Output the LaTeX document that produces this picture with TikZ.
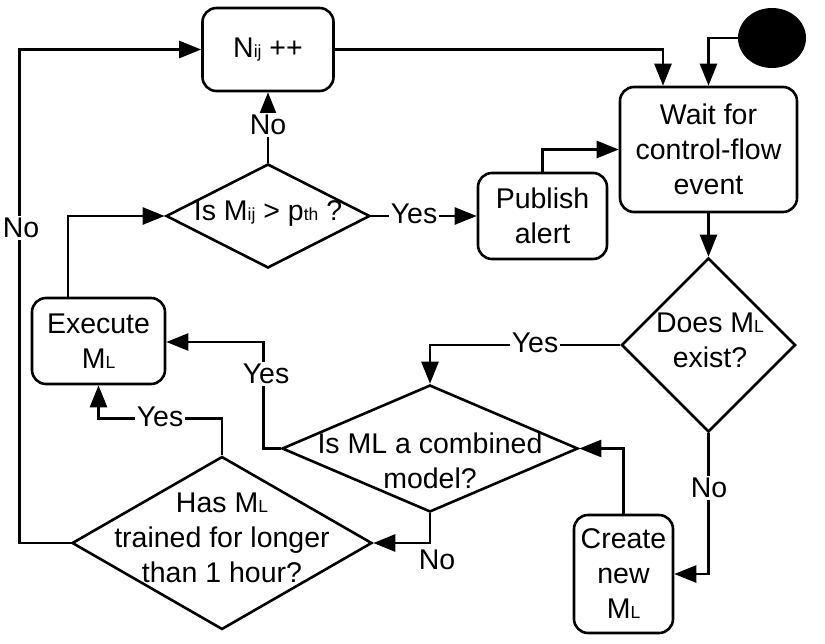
\documentclass[tikz,border=0pt]{standalone}
\usepackage{fontspec}
\setmainfont{Liberation Sans}
\usetikzlibrary{arrows.meta,shapes.geometric}
\newcommand\ftxt{\fontsize{28.5}{35}\selectfont}
\newcommand\sbs[1]{{\fontsize{17.5}{17.5}\selectfont #1}}
\begin{document}
\begin{tikzpicture}[x=1pt,y=-1pt,
  ln/.style={line width=2.6pt},
  arr/.style={line width=2.6pt, -{Triangle[length=22pt,width=17pt]}},
  box/.style={draw, line width=2.6pt, rounded corners=14pt, inner sep=0pt, align=center, font=\ftxt},
  dia/.style={draw, diamond, line width=2.6pt, inner sep=0pt},
  txt/.style={align=center, font=\ftxt, inner sep=0pt},
  lab/.style={fill=white, inner sep=2pt, font=\ftxt}]
\useasboundingbox (0,0) rectangle (825,643);
% boxes
\node[box, minimum width=131pt, minimum height=83pt] (nij) at (268,49.5) {N\sbs{ij} ++};
\node[box, minimum width=177pt, minimum height=125pt] (wait) at (708.5,149.5) {Wait for\\control-flow\\event};
\node[box, minimum width=129pt, minimum height=86pt] (pub) at (542.5,216) {Publish\\alert};
\node[box, minimum width=133pt, minimum height=86pt] (exe) at (98.5,341) {Execute\\M\sbs{L}};
\node[box, minimum width=99pt, minimum height=118pt] (create) at (623.5,574) {Create\\new\\M\sbs{L}};
\node[ellipse, fill=black, minimum width=68pt, minimum height=60pt, inner sep=0pt] (start) at (772,38) {};
% diamonds
\node[dia, minimum width=204pt, minimum height=104pt] (ism) at (268,216) {};
\node[txt] (ismt) at (268,214) {Is M\sbs{ij} > p\sbs{th} ?};
\node[dia, minimum width=174pt, minimum height=174pt] (does) at (708.5,345) {};
\node[txt] (doest) at (710,340) {Does M\sbs{L}\\exist?};
\node[dia, minimum width=296pt, minimum height=127pt] (comb) at (430,448.5) {};
\node[txt] (combt) at (430,461) {Is ML a combined\\model?};
\node[dia, minimum width=300pt, minimum height=173pt] (has) at (222,543) {};
\node[txt] (hast) at (222,538) {Has M\sbs{L}\\trained for longer\\than 1 hour?};
% connectors
\draw[arr] (has.west) -- ++(-51,0) |- (nij.west);
\draw[arr] (nij.east) -| ([xshift=-45.5pt]wait.north);
\draw[arr] (start.west) -| (wait.north);
\draw[arr] (pub.north) |- (wait.west);
\draw[arr] (wait.south) -- (does.north);
\draw[arr] (does.west) -| (comb.north);
\draw[arr] (does.south) |- (create.east);
\draw[arr] (create.north) |- (comb.east);
\draw[arr] (comb.west) -- ++(-17,0) |- ([yshift=-1pt]exe.east);
\draw[arr] (comb.south) |- (has.east);
\draw[arr] (has.north) -- ++(0,-37) -| (exe.south);
\draw[arr] ([xshift=-30.5pt]exe.north) |- (ism.west);
\draw[arr] (ism.north) -- (nij.south);
\draw[arr] (ism.east) -- (pub.west);
% labels
\node[lab] (l1) at (21,228) {No};
\node[lab] (l2) at (268,125) {No};
\node[lab] (l3) at (414,214) {Yes};
\node[lab] (l4) at (535,343) {Yes};
\node[lab] (l5) at (709,488) {No};
\node[lab] (l6) at (266,374) {Yes};
\node[lab] (l7) at (160,417) {Yes};
\node[lab, fill=none] (l8) at (437,560) {No};
\end{tikzpicture}
\end{document}
